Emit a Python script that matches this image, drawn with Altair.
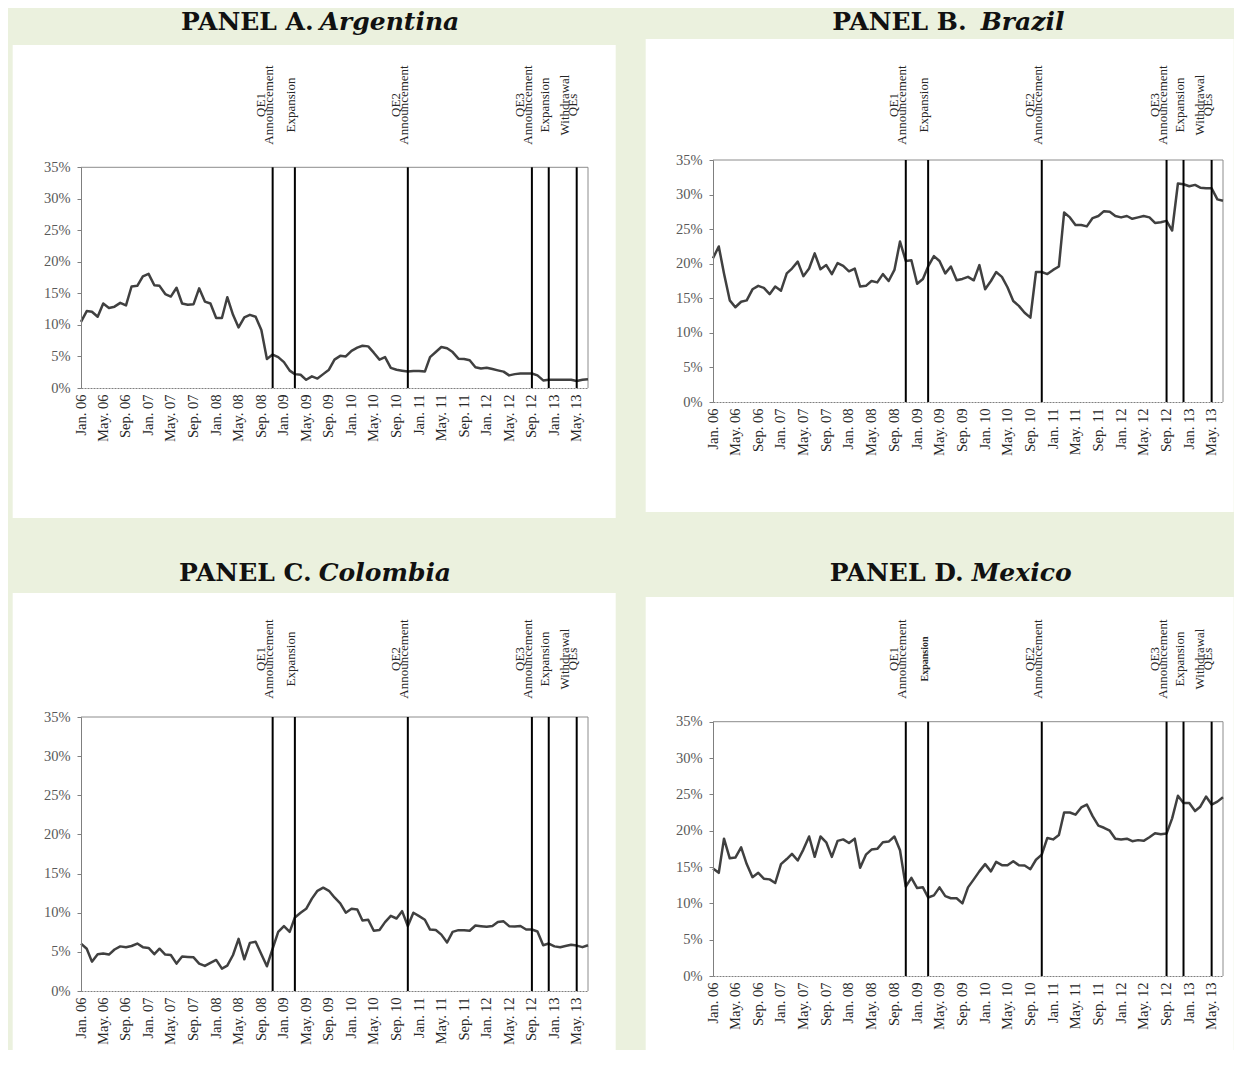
import altair as alt
import pandas as pd

GREEN = "#EBF1DE"
SERIF = "Liberation Serif"
TITLE_FONT = "DejaVu Serif"

# Monthly observations, Jan 2006 - Jul 2013
dates = [d.strftime("%Y-%m-%d") for d in pd.date_range("2006-01-01", "2013-07-01", freq="MS")]
x_tick_dates = dates[::4]

argentina = [10.5, 12.2, 12.1, 11.3, 13.4, 12.7, 12.9, 13.5, 13.1, 16.1,
             16.2, 17.7, 18.1, 16.3, 16.2, 14.9, 14.5, 15.9, 13.4, 13.2,
             13.3, 15.8, 13.7, 13.4, 11.1, 11.1, 14.4, 11.6, 9.6, 11.2,
             11.6, 11.3, 9.2, 4.6, 5.3, 4.9, 4.1, 2.75, 2.2, 2.1,
             1.3, 1.85, 1.5, 2.2, 2.9, 4.5, 5.1, 5.0, 5.9, 6.4,
             6.7, 6.6, 5.6, 4.5, 4.9, 3.2, 2.9, 2.75, 2.6, 2.7,
             2.7, 2.6, 4.9, 5.7, 6.5, 6.3, 5.7, 4.65, 4.6, 4.4,
             3.3, 3.1, 3.2, 3.0, 2.8, 2.6, 2.0, 2.2, 2.3, 2.3,
             2.3, 2.0, 1.2, 1.3, 1.3, 1.3, 1.3, 1.3, 1.1, 1.3, 1.4]

brazil = [20.8, 22.5, 18.6, 14.7, 13.7, 14.5, 14.7, 16.3, 16.8, 16.5,
          15.6, 16.7, 16.1, 18.6, 19.3, 20.3, 18.2, 19.3, 21.5, 19.2,
          19.8, 18.5, 20.1, 19.7, 18.9, 19.3, 16.7, 16.8, 17.5, 17.3,
          18.5, 17.5, 19.1, 23.2, 20.4, 20.5, 17.1, 17.8, 19.6, 21.1,
          20.4, 18.6, 19.6, 17.6, 17.8, 18.1, 17.6, 19.8, 16.3, 17.5,
          18.8, 18.1, 16.6, 14.6, 13.9, 12.9, 12.2, 18.8, 18.8, 18.5,
          19.1, 19.6, 27.4, 26.7, 25.6, 25.6, 25.4, 26.6, 26.9, 27.6,
          27.5, 26.9, 26.7, 26.9, 26.5, 26.7, 26.9, 26.7, 25.9, 26.0,
          26.2, 24.8, 31.6, 31.5, 31.2, 31.4, 31.0, 30.9, 30.9, 29.3, 29.1]

colombia = [6.06, 5.4, 3.75, 4.7, 4.8, 4.65, 5.3, 5.7, 5.6, 5.75,
            6.06, 5.6, 5.5, 4.7, 5.4, 4.65, 4.6, 3.5, 4.4, 4.35,
            4.3, 3.5, 3.2, 3.6, 3.97, 2.86, 3.24, 4.6, 6.66, 4.05,
            6.15, 6.3, 4.7, 3.16, 5.4, 7.55, 8.3, 7.55, 9.4, 10.0,
            10.5, 11.8, 12.8, 13.2, 12.8, 11.95, 11.2, 10.0, 10.5, 10.4,
            9.0, 9.1, 7.7, 7.8, 8.8, 9.6, 9.26, 10.2, 8.3, 10.0,
            9.56, 9.1, 7.85, 7.8, 7.2, 6.2, 7.55, 7.77, 7.77, 7.7,
            8.36, 8.28, 8.2, 8.3, 8.8, 8.9, 8.28, 8.24, 8.3, 7.85,
            7.85, 7.6, 5.85, 6.06, 5.7, 5.6, 5.75, 5.9, 5.8, 5.6, 5.85]

mexico = [14.8, 14.2, 18.9, 16.2, 16.3, 17.7, 15.4, 13.6, 14.2, 13.4,
          13.3, 12.8, 15.4, 16.1, 16.8, 15.9, 17.4, 19.2, 16.4, 19.2,
          18.4, 16.4, 18.6, 18.8, 18.3, 18.9, 14.9, 16.7, 17.4, 17.5,
          18.4, 18.5, 19.2, 17.3, 12.3, 13.5, 12.1, 12.2, 10.8, 11.1,
          12.2, 11.0, 10.7, 10.7, 10.0, 12.2, 13.3, 14.4, 15.4, 14.4,
          15.7, 15.25, 15.25, 15.8, 15.25, 15.2, 14.7, 16.0, 16.7, 19.0,
          18.8, 19.4, 22.5, 22.5, 22.2, 23.2, 23.6, 22.0, 20.7, 20.4,
          20.0, 18.9, 18.8, 18.9, 18.55, 18.7, 18.6, 19.1, 19.65, 19.5,
          19.6, 21.7, 24.8, 23.8, 23.8, 22.7, 23.3, 24.7, 23.6, 24.0, 24.6]

event_dates = ["2008-11-01", "2009-03-01", "2010-11-01", "2012-09-01", "2012-12-01", "2013-05-01"]
event_line1 = ["QE1", "", "QE2", "QE3", "", "Withdrawal"]
event_line2 = ["Announcement", "Expansion", "Announcement", "Announcement", "Expansion", "QEs"]

y_ticks = [0, 0.05, 0.10, 0.15, 0.20, 0.25, 0.30, 0.35]


def ms(d):
    return int(pd.Timestamp(d, tz="UTC").timestamp() * 1000)


def make_panel(values, w, h, top, t1, t2, s1, s2, ty, ly, white, green=None, small_exp=False):
    df = pd.DataFrame({"date": dates, "v": [v / 100 for v in values]})
    ev = pd.DataFrame({"date": event_dates, "l1": event_line1, "l2": event_line2,
                       "small": [bool(small_exp and i == 1) for i in range(len(event_dates))]})
    one = pd.DataFrame({"k": [0]})

    xenc = alt.X("date:T",
                 scale=alt.Scale(type="utc", domain=[ms(dates[0]), ms(dates[-1])]),
                 axis=alt.Axis(title=None, values=[ms(d) for d in x_tick_dates],
                               labelExpr="utcFormat(datum.value, '%b. %y')",
                               labelAngle=270, labelFont=SERIF, labelFontSize=14.5,
                               labelColor="#262626", labelPadding=6, ticks=False,
                               domainColor="#7f7f7f", domainDash=[2, 1],
                               labelOverlap=False, labelFlush=False, grid=False, zindex=1))
    yenc = alt.Y("v:Q",
                 scale=alt.Scale(domain=[0, 0.35], range=[h, top]),
                 axis=alt.Axis(title=None, values=y_ticks, format=".0%",
                               labelFont=SERIF, labelFontSize=14.5, labelColor="#595959",
                               tickSize=4, tickColor="#7f7f7f", domainColor="#7f7f7f",
                               labelPadding=7, grid=False, zindex=1))

    layers = []
    if green is not None:
        layers.append(alt.Chart(one).mark_rect(color=GREEN).encode(
            x=alt.value(green[0]), x2=alt.value(green[1]),
            y=alt.value(green[2]), y2=alt.value(green[3])))
    layers.append(alt.Chart(one).mark_rect(color="white").encode(
        x=alt.value(white[0]), x2=alt.value(white[1]),
        y=alt.value(white[2]), y2=alt.value(white[3])))
    layers.append(alt.Chart(one).mark_rule(color="#8c8c8c", strokeWidth=1).encode(
        x=alt.value(0), x2=alt.value(w), y=alt.value(top)))
    layers.append(alt.Chart(one).mark_rule(color="#8c8c8c", strokeWidth=1).encode(
        x=alt.value(w), y=alt.value(top), y2=alt.value(h)))
    layers.append(alt.Chart(df).mark_line(color="#404040", strokeWidth=2.5,
                                          strokeJoin="round").encode(x=xenc, y=yenc))
    layers.append(alt.Chart(ev).mark_rule(color="black", strokeWidth=2).encode(
        x=xenc, y=alt.value(top), y2=alt.value(h)))
    layers.append(alt.Chart(ev).mark_text(angle=270, align="center", baseline="alphabetic",
                                          dy=-8, font=SERIF, fontSize=13, color="#262626").encode(
        x=xenc, y=alt.value(ly), text="l1:N"))
    layers.append(alt.Chart(ev).transform_filter("!datum.small").mark_text(
        angle=270, align="center", baseline="alphabetic", font=SERIF, fontSize=13,
        color="#262626").encode(x=xenc, y=alt.value(ly), text="l2:N"))
    layers.append(alt.Chart(ev).transform_filter("datum.small").mark_text(
        angle=270, align="center", baseline="alphabetic", font=SERIF, fontSize=10,
        fontWeight="bold", color="#262626").encode(x=xenc, y=alt.value(ly), text="l2:N"))
    layers.append(alt.Chart(one).mark_text(align="right", baseline="alphabetic",
                                           font=TITLE_FONT, fontSize=25, fontWeight="bold",
                                           color="#111111").encode(
        x=alt.value(s1), y=alt.value(ty), text=alt.value(t1)))
    layers.append(alt.Chart(one).mark_text(align="left", baseline="alphabetic",
                                           font=TITLE_FONT, fontSize=25, fontWeight="bold",
                                           fontStyle="italic", color="#111111").encode(
        x=alt.value(s2), y=alt.value(ty), text=alt.value(t2)))
    return alt.layer(*layers).properties(width=w, height=h)


pa = make_panel(argentina, 507, 228, 7.3, "PANEL A.", "Argentina", 232.7, 238.7, -130, -55,
                (-68.3, 534.7, -115, 358), green=(-72.3, 1152.7, -152, 890))
pb = make_panel(brazil, 510, 242, 0, "PANEL B.", "Brazil", 253.7, 267.7, -130, -55,
                (-67.3, 520.7, -121, 352))
pc = make_panel(colombia, 507, 274, 0, "PANEL C.", "Colombia", 230.7, 237.7, -136, -58,
                (-68.3, 534.7, -124, 333))
pd_ = make_panel(mexico, 510, 259, 4.7, "PANEL D.", "Mexico", 250.7, 258.7, -136, -58,
                 (-67.3, 520.7, -120, 333), small_exp=True)

chart = alt.concat(pa, pb, pc, pd_, columns=2, spacing={"row": 315, "column": 125},
                   bounds="flush").properties(padding=0, background=GREEN).configure_view(stroke=None)

chart.save("out.html", embed_options={"renderer": "svg", "actions": False})
